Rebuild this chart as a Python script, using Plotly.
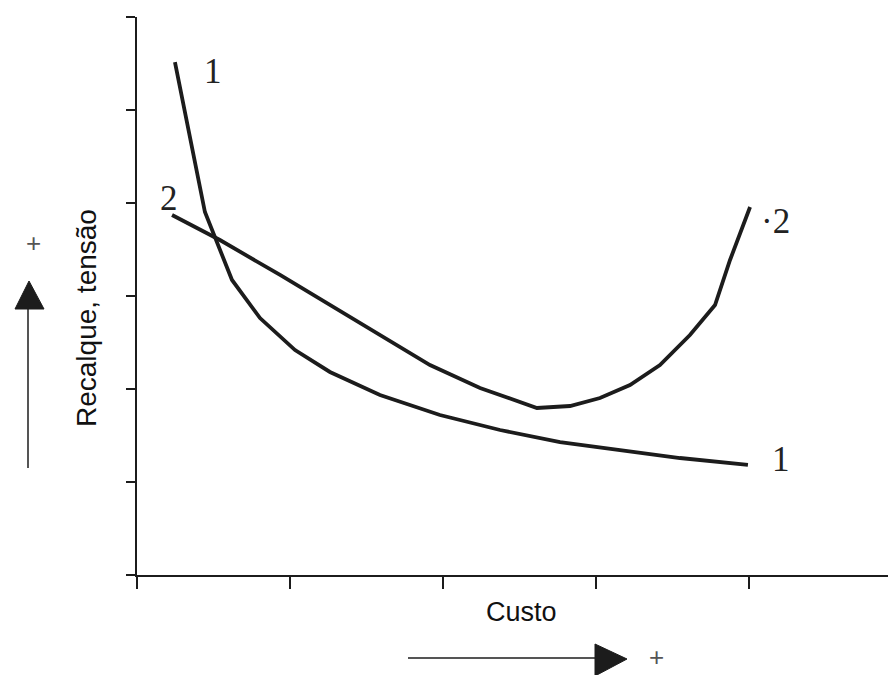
import plotly.graph_objects as go

# data (x in cost units, y in settlement/stress units)
curve1_x = [0.248, 0.444, 0.621, 0.804, 1.033, 1.261, 1.588, 1.980, 2.373, 2.765, 3.157, 3.549, 3.993]
curve1_y = [5.516, 3.903, 3.172, 2.763, 2.419, 2.183, 1.935, 1.720, 1.559, 1.430, 1.344, 1.258, 1.183]
curve2_x = [0.229, 0.542, 0.935, 1.261, 1.588, 1.915, 2.242, 2.614, 2.830, 3.026, 3.222, 3.418, 3.614, 3.778, 3.876, 4.007]
curve2_y = [3.871, 3.602, 3.226, 2.903, 2.581, 2.258, 2.011, 1.796, 1.817, 1.903, 2.043, 2.258, 2.581, 2.903, 3.387, 3.957]
x_ticks = [0, 1, 2, 3, 4]
y_ticks = [0, 1, 2, 3, 4, 5, 6]

OFF = 8  # browser body margin
W, H = 896 - OFF, 675 - OFF
L, R, T, B = 137 - OFF, 0, 17 - OFF, 100
PW, PH = W - L - R, H - T - B

def px(x):
    return (x - OFF - L) / PW

def py(y):
    return (H - B - (y - OFF)) / PH

ink = "#1c1c1c"
fig = go.Figure()
fig.add_trace(go.Scatter(x=curve1_x, y=curve1_y, mode="lines",
                         line=dict(color=ink, width=3.8), showlegend=False))
fig.add_trace(go.Scatter(x=curve2_x, y=curve2_y, mode="lines",
                         line=dict(color=ink, width=3.8), showlegend=False))

shapes = []
# left arrow
shapes.append(dict(type="line", xref="paper", yref="paper",
                   x0=px(28), y0=py(468), x1=px(28), y1=py(305),
                   line=dict(color=ink, width=1.5)))
shapes.append(dict(type="path", xref="paper", yref="paper",
                   path=f"M {px(15)} {py(309)} L {px(44)} {py(309)} L {px(29)} {py(281)} Z",
                   fillcolor=ink, line=dict(color=ink, width=1)))
# bottom arrow
shapes.append(dict(type="line", xref="paper", yref="paper",
                   x0=px(408), y0=py(658), x1=px(600), y1=py(658),
                   line=dict(color=ink, width=1.5)))
shapes.append(dict(type="path", xref="paper", yref="paper",
                   path=f"M {px(595)} {py(644)} L {px(595)} {py(676)} L {px(627)} {py(659)} Z",
                   fillcolor=ink, line=dict(color=ink, width=1)))

serif = dict(family="Liberation Serif", size=35, color="#222")

def label(text, x, y, font, angle=0):
    return dict(text=text, x=px(x), y=py(y), xref="paper", yref="paper",
                xanchor="center", yanchor="middle", showarrow=False,
                textangle=angle, font=font)

annotations = [
    label("1", 213, 72, serif),
    label("2", 169, 199, serif),
    label("·2", 775, 222, serif),
    label("1", 781, 459, serif),
    label("Custo", 521, 612, dict(family="Liberation Sans", size=27, color="#111")),
    label("Recalque, tensão", 86, 318, dict(family="Liberation Sans", size=28, color="#111"), -90),
    label("+", 33, 243, dict(family="Liberation Sans", size=26, color="#555")),
    label("+", 656, 657, dict(family="Liberation Sans", size=26, color="#555")),
]

fig.update_layout(
    width=W, height=H,
    margin=dict(l=L, r=R, t=T, b=B, pad=0),
    paper_bgcolor="white", plot_bgcolor="white",
    shapes=shapes, annotations=annotations,
    xaxis=dict(range=[0, PW / 153.0], showgrid=False, zeroline=False,
               showline=True, linecolor=ink, linewidth=2,
               tickmode="array", tickvals=x_ticks, ticktext=[""] * len(x_ticks),
               ticks="outside", ticklen=12, tickwidth=2, tickcolor=ink),
    yaxis=dict(range=[0, 6], showgrid=False, zeroline=False,
               showline=True, linecolor=ink, linewidth=2,
               tickmode="array", tickvals=y_ticks, ticktext=[""] * len(y_ticks),
               ticks="outside", ticklen=9, tickwidth=2, tickcolor=ink),
)

fig.write_html("out.html")
